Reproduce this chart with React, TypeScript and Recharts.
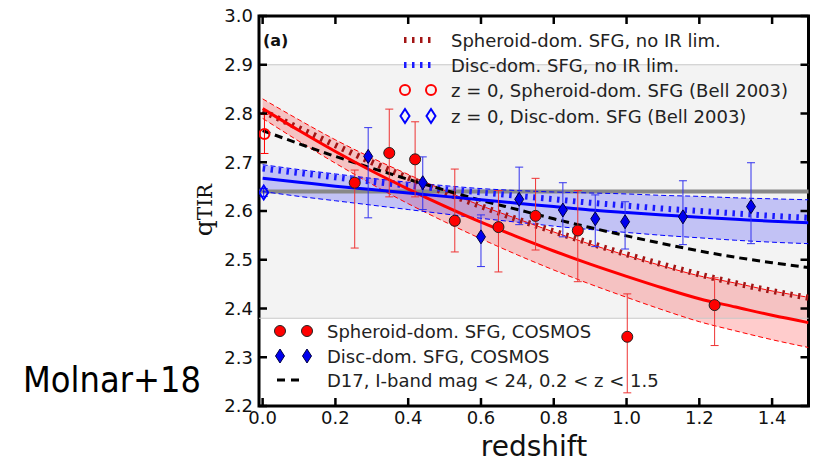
import React from 'react';
import {
  ComposedChart,
  Line,
  Area,
  Scatter,
  ErrorBar,
  XAxis,
  YAxis,
  ReferenceArea,
  ReferenceLine,
} from 'recharts';

// redshift grid for the fitted curves
const Z_GRID = [0, 0.1, 0.2, 0.3, 0.4, 0.5, 0.6, 0.7, 0.8, 0.9, 1.0, 1.1, 1.2, 1.3, 1.4, 1.5];

// Spheroid-dom. SFG fit + band
const SPH_FIT = [2.81, 2.765, 2.722, 2.682, 2.645, 2.61, 2.577, 2.547, 2.518, 2.491, 2.466, 2.442, 2.42, 2.403, 2.386, 2.371];
const SPH_HI = [2.83, 2.787, 2.746, 2.709, 2.675, 2.642, 2.611, 2.584, 2.557, 2.532, 2.509, 2.487, 2.467, 2.452, 2.436, 2.423];
const SPH_LO = [2.79, 2.743, 2.698, 2.655, 2.615, 2.578, 2.543, 2.51, 2.479, 2.45, 2.423, 2.397, 2.373, 2.354, 2.336, 2.32];
const SPH_NO_IR = [2.805, 2.77, 2.735, 2.70, 2.668, 2.638, 2.61, 2.583, 2.558, 2.534, 2.511, 2.49, 2.47, 2.452, 2.436, 2.422];

// Disc-dom. SFG fit + band
const DISC_FIT = [2.667, 2.659, 2.651, 2.644, 2.637, 2.63, 2.623, 2.616, 2.609, 2.602, 2.597, 2.592, 2.587, 2.583, 2.579, 2.576];
const DISC_HI = [2.695, 2.685, 2.676, 2.667, 2.659, 2.652, 2.646, 2.642, 2.639, 2.637, 2.635, 2.632, 2.63, 2.627, 2.625, 2.623];
const DISC_LO = [2.64, 2.63, 2.621, 2.612, 2.603, 2.594, 2.585, 2.577, 2.569, 2.562, 2.556, 2.55, 2.545, 2.54, 2.536, 2.533];
const DISC_NO_IR = [2.687, 2.678, 2.669, 2.66, 2.652, 2.645, 2.638, 2.631, 2.624, 2.617, 2.611, 2.605, 2.6, 2.595, 2.59, 2.586];

// D17, I-band mag < 24
const D17 = [2.765, 2.738, 2.712, 2.688, 2.665, 2.643, 2.622, 2.603, 2.584, 2.566, 2.549, 2.533, 2.518, 2.505, 2.494, 2.484];

// Bell 2003 local value
const BELL_Q = 2.64;

// COSMOS points
const SPH_Z = [0.253, 0.348, 0.419, 0.528, 0.648, 0.75, 0.866, 1.002, 1.242];
const SPH_Q = [2.658, 2.719, 2.706, 2.58, 2.567, 2.59, 2.56, 2.342, 2.407];
const SPH_ERR_LO = [0.134, 0.09, 0.077, 0.064, 0.092, 0.07, 0.105, 0.115, 0.083];
const SPH_ERR_HI = [0.026, 0.09, 0.077, 0.106, 0.075, 0.077, 0.082, 0.088, 0.056];

const DISC_Z = [0.29, 0.44, 0.6, 0.705, 0.825, 0.914, 0.996, 1.155, 1.342];
const DISC_Q = [2.712, 2.658, 2.547, 2.624, 2.602, 2.584, 2.578, 2.588, 2.609];
const DISC_ERR_LO = [0.126, 0.055, 0.061, 0.052, 0.055, 0.057, 0.056, 0.057, 0.076];
const DISC_ERR_HI = [0.059, 0.053, 0.045, 0.066, 0.056, 0.049, 0.041, 0.074, 0.09];

// z = 0 points (Bell 2003)
const BELL_SPH = { z: 0.005, q: 2.758, lo: 0.04, hi: 0.04 };
const BELL_DISC = { z: 0.003, q: 2.638, lo: 0.008, hi: 0.008 };

const X_TICKS = [0, 0.2, 0.4, 0.6, 0.8, 1.0, 1.2, 1.4];
const Y_TICKS = [2.2, 2.3, 2.4, 2.5, 2.6, 2.7, 2.8, 2.9, 3.0];

const W = 814;
const H = 463;
const PLOT_LEFT = 259;
const PLOT_RIGHT = 808.5;
const PLOT_TOP = 16;
const PLOT_BOTTOM = 406;
const FONT = '"DejaVu Sans", sans-serif';

const curveData = Z_GRID.map((z, i) => ({
  z,
  sph: SPH_FIT[i],
  sphBand: [SPH_LO[i], SPH_HI[i]],
  sphLo: SPH_LO[i],
  sphHi: SPH_HI[i],
  sphNoIR: SPH_NO_IR[i],
  disc: DISC_FIT[i],
  discBand: [DISC_LO[i], DISC_HI[i]],
  discLo: DISC_LO[i],
  discHi: DISC_HI[i],
  discNoIR: DISC_NO_IR[i],
  d17: D17[i],
}));

const sphPts = SPH_Z.map((z, i) => ({ z, q: SPH_Q[i], err: [SPH_ERR_LO[i], SPH_ERR_HI[i]] }));
const discPts = DISC_Z.map((z, i) => ({ z, q: DISC_Q[i], err: [DISC_ERR_LO[i], DISC_ERR_HI[i]] }));
const bellSph = [{ z: BELL_SPH.z, q: BELL_SPH.q, err: [BELL_SPH.lo, BELL_SPH.hi] }];
const bellDisc = [{ z: BELL_DISC.z, q: BELL_DISC.q, err: [BELL_DISC.lo, BELL_DISC.hi] }];

const diamond = (cx: number, cy: number, fill: string, stroke: string, sw: number) => (
  <polygon
    points={`${cx},${cy - 7} ${cx + 4.5},${cy} ${cx},${cy + 7} ${cx - 4.5},${cy}`}
    fill={fill}
    stroke={stroke}
    strokeWidth={sw}
  />
);

const RedDot = (p: any) => <circle cx={p.cx} cy={p.cy} r={5.5} fill="#ff0000" stroke="#222" strokeWidth={1} />;
const BlueDiamond = (p: any) => diamond(p.cx, p.cy, '#0000ee', '#000044', 1);
const RedRing = (p: any) => <circle cx={p.cx} cy={p.cy} r={5} fill="none" stroke="#ff0000" strokeWidth={2} />;
const BlueRing = (p: any) => diamond(p.cx, p.cy, 'none', '#0000ff', 2);

const XTick = (props: any) => {
  const { x, y, payload } = props;
  return (
    <g>
      <line x1={x} x2={x} y1={PLOT_BOTTOM} y2={PLOT_BOTTOM - 8} stroke="#000" strokeWidth={2.5} />
      <line x1={x} x2={x} y1={PLOT_TOP} y2={PLOT_TOP + 8} stroke="#000" strokeWidth={2.5} />
      <text x={x} y={y} dy="0.71em" textAnchor="middle" fontSize={18} fontFamily={FONT} fill="#111">
        {payload.value.toFixed(1)}
      </text>
    </g>
  );
};

const YTick = (props: any) => {
  const { x, y, payload } = props;
  return (
    <g>
      <line x1={PLOT_LEFT} x2={PLOT_LEFT + 8} y1={y} y2={y} stroke="#000" strokeWidth={2.5} />
      <line x1={PLOT_RIGHT} x2={PLOT_RIGHT - 8} y1={y} y2={y} stroke="#000" strokeWidth={2.5} />
      <text x={x} y={y} dy="0.36em" textAnchor="end" fontSize={18} fontFamily={FONT} fill="#111">
        {payload.value.toFixed(1)}
      </text>
    </g>
  );
};

const LEG = 18;

const Overlay = () => (
  <svg
    width={W}
    height={H}
    style={{ position: 'absolute', left: 0, top: 0, pointerEvents: 'none' }}
    fontFamily={FONT}
  >
    <text x={263} y={40} dominantBaseline="central" fontSize={16} fontWeight="bold" fill="#111">(a)</text>

    {/* top legend */}
    <line x1={404} x2={434} y1={40} y2={40} stroke="#a31515" strokeWidth={6} strokeDasharray="2.5 5.5" />
    <text x={451} y={40} dominantBaseline="central" fontSize={LEG} fill="#222">Spheroid-dom. SFG, no IR lim.</text>
    <line x1={404} x2={434} y1={65} y2={65} stroke="#1a1aff" strokeWidth={6} strokeDasharray="2.5 5.5" />
    <text x={451} y={65} dominantBaseline="central" fontSize={LEG} fill="#222">Disc-dom. SFG, no IR lim.</text>
    <circle cx={405} cy={90} r={5} fill="none" stroke="#ff0000" strokeWidth={2} />
    <circle cx={431} cy={90} r={5} fill="none" stroke="#ff0000" strokeWidth={2} />
    <text x={451} y={90} dominantBaseline="central" fontSize={LEG} fill="#222">z = 0, Spheroid-dom. SFG (Bell 2003)</text>
    {diamond(405, 116, 'none', '#0000ff', 2)}
    {diamond(431, 116, 'none', '#0000ff', 2)}
    <text x={451} y={116} dominantBaseline="central" fontSize={LEG} fill="#222">z = 0, Disc-dom. SFG (Bell 2003)</text>

    {/* bottom legend */}
    <circle cx={280} cy={331} r={5.5} fill="#ff0000" stroke="#222" strokeWidth={1} />
    <circle cx={307} cy={331} r={5.5} fill="#ff0000" stroke="#222" strokeWidth={1} />
    <text x={327} y={331} dominantBaseline="central" fontSize={LEG} fill="#222">Spheroid-dom. SFG, COSMOS</text>
    {diamond(280, 356, '#0000ee', '#000044', 1)}
    {diamond(307, 356, '#0000ee', '#000044', 1)}
    <text x={327} y={356} dominantBaseline="central" fontSize={LEG} fill="#222">Disc-dom. SFG, COSMOS</text>
    <line x1={277} x2={305} y1={380} y2={380} stroke="#000" strokeWidth={3} strokeDasharray="8 6" />
    <text x={327} y={380} dominantBaseline="central" fontSize={LEG} fill="#222">D17, I-band mag &lt; 24, 0.2 &lt; z &lt; 1.5</text>

    {/* axis titles */}
    <text x={534} y={446} textAnchor="middle" dominantBaseline="central" fontSize={28} fill="#111">redshift</text>
    <text
      x={212}
      y={210}
      textAnchor="middle"
      transform="rotate(-90 212 210)"
      fontFamily='"DejaVu Serif", serif'
      fill="#111"
    >
      <tspan fontSize={25}>q</tspan>
      <tspan fontSize={20}>TIR</tspan>
    </text>

    <text x={23} y={392} fontSize={35} textLength={178} lengthAdjust="spacingAndGlyphs" fill="#000">Molnar+18</text>
  </svg>
);

export default function App() {
  return (
    <div style={{ position: 'absolute', left: 0, top: 0, width: W, height: H, background: '#fff' }}>
      <ComposedChart
        width={W}
        height={H}
        data={curveData}
        margin={{ top: PLOT_TOP, right: W - PLOT_RIGHT, bottom: 0, left: 0 }}
      >
        <XAxis
          type="number"
          dataKey="z"
          domain={[-0.01, 1.5]}
          ticks={X_TICKS}
          height={H - PLOT_BOTTOM}
          tickSize={0}
          tickMargin={5}
          axisLine={false}
          tick={XTick}
          allowDataOverflow
        />
        <YAxis
          type="number"
          domain={[2.2, 3.0]}
          ticks={Y_TICKS}
          width={PLOT_LEFT}
          tickSize={0}
          tickMargin={6}
          axisLine={false}
          tick={YTick}
          allowDataOverflow
        />

        <ReferenceArea x1={-0.01} x2={1.5} y1={2.9} y2={3.0} fill="#ffffff" fillOpacity={1} stroke="none" />
        <ReferenceArea x1={-0.01} x2={1.5} y1={2.38} y2={2.9} fill="#f3f3f3" fillOpacity={1} stroke="none" />
        <ReferenceArea x1={-0.01} x2={1.5} y1={2.2} y2={2.38} fill="#ffffff" fillOpacity={1} stroke="none" />
        <ReferenceLine y={2.9} stroke="#c8c8c8" strokeWidth={1} />
        <ReferenceLine y={2.38} stroke="#c8c8c8" strokeWidth={1} />

        <ReferenceLine y={BELL_Q} stroke="#888888" strokeWidth={4} />

        <Area type="monotone" dataKey="sphBand" fill="#ff0000" fillOpacity={0.2} stroke="none" isAnimationActive={false} activeDot={false} />
        <Area type="monotone" dataKey="discBand" fill="#0000ff" fillOpacity={0.2} stroke="none" isAnimationActive={false} activeDot={false} />

        <Line type="monotone" dataKey="sphLo" stroke="#ff0000" strokeWidth={1} strokeDasharray="5 3" dot={false} isAnimationActive={false} />
        <Line type="monotone" dataKey="sphHi" stroke="#ff0000" strokeWidth={1} strokeDasharray="5 3" dot={false} isAnimationActive={false} />
        <Line type="monotone" dataKey="discLo" stroke="#0000ff" strokeWidth={1} strokeDasharray="5 3" dot={false} isAnimationActive={false} />
        <Line type="monotone" dataKey="discHi" stroke="#0000ff" strokeWidth={1} strokeDasharray="5 3" dot={false} isAnimationActive={false} />

        <Line type="monotone" dataKey="sphNoIR" stroke="#a31515" strokeWidth={6} strokeDasharray="2.5 5.5" dot={false} isAnimationActive={false} />
        <Line type="monotone" dataKey="discNoIR" stroke="#1a1aff" strokeWidth={6} strokeDasharray="2.5 5.5" dot={false} isAnimationActive={false} />
        <Line type="monotone" dataKey="d17" stroke="#000000" strokeWidth={3} strokeDasharray="8 5" dot={false} isAnimationActive={false} />
        <Line type="monotone" dataKey="sph" stroke="#ff0000" strokeWidth={3} dot={false} isAnimationActive={false} />
        <Line type="monotone" dataKey="disc" stroke="#0000ff" strokeWidth={3} dot={false} isAnimationActive={false} />

        <Scatter data={bellSph} dataKey="q" shape={RedRing} isAnimationActive={false}>
          <ErrorBar dataKey="err" direction="y" width={4} stroke="#ff0000" strokeWidth={1} isAnimationActive={false} />
        </Scatter>
        <Scatter data={bellDisc} dataKey="q" shape={BlueRing} isAnimationActive={false}>
          <ErrorBar dataKey="err" direction="y" width={4} stroke="#0000ff" strokeWidth={1} isAnimationActive={false} />
        </Scatter>
        <Scatter data={sphPts} dataKey="q" shape={RedDot} isAnimationActive={false}>
          <ErrorBar dataKey="err" direction="y" width={4} stroke="#ee3333" strokeWidth={1} isAnimationActive={false} />
        </Scatter>
        <Scatter data={discPts} dataKey="q" shape={BlueDiamond} isAnimationActive={false}>
          <ErrorBar dataKey="err" direction="y" width={4} stroke="#3333ee" strokeWidth={1} isAnimationActive={false} />
        </Scatter>

        <ReferenceArea x1={-0.01} x2={1.5} y1={2.2} y2={3.0} fill="none" stroke="#000" strokeWidth={3} ifOverflow="visible" />
      </ComposedChart>
      <Overlay />
    </div>
  );
}
